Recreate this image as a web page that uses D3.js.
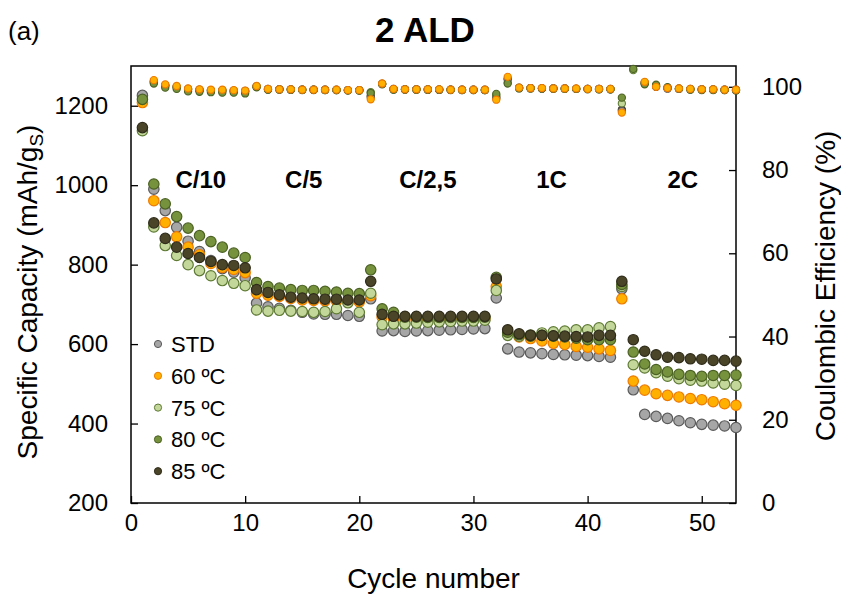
<!DOCTYPE html>
<meta charset="utf-8">
<style>
body { margin: 0; background: #fff; }
text { font-family: Arial, "Liberation Sans", sans-serif; fill: #000; }
.axis .tick text { font-size: 24px; }
.axis line { stroke: #000; stroke-width: 1.3px; }
.axis path { display: none; }
.frame { fill: none; stroke: #000; stroke-width: 1.5px; }
.rate { font-size: 24px; font-weight: bold; }
.legend text { font-size: 22px; }
</style>
<svg width="841" height="595"></svg>
<script src="https://cdn.jsdelivr.net/npm/d3@7"></script>
<script>

var cycles = [1,2,3,4,5,6,7,8,9,10,11,12,13,14,15,16,17,18,19,20,
  21,22,23,24,25,26,27,28,29,30,31,32,33,34,35,36,37,38,39,40,
  41,42,43,44,45,46,47,48,49,50,51,52,53];

var names = ["STD", "60 \u00BAC", "75 \u00BAC", "80 \u00BAC", "85 \u00BAC"];

// specific capacity, mAh/gS
var capSTD = [1226,990,936,894,859,833,810,790,781,767,
  703,694,690,685,680,676,675,675,672,670,
  714,633,634,632,633,634,635,636,637,638,
  639,716,588,580,578,576,574,573,572,571,
  569,567,739,485,423,418,413,407,402,398,
  396,394,390];
var cap60 = [1208,961,906,870,844,825,803,793,788,780,
  728,723,720,715,711,710,709,708,707,706,
  722,668,663,662,662,662,662,663,663,663,
  664,745,628,618,614,608,602,599,594,592,
  588,584,714,507,484,475,471,467,463,460,
  455,450,446];
var cap75 = [1137,895,848,823,800,785,772,760,753,747,
  686,683,685,683,682,680,682,689,704,680,
  728,649,651,651,653,655,656,657,658,658,
  660,735,622,620,623,628,631,633,636,636,
  641,644,745,548,540,528,519,513,509,507,
  502,499,496];
var cap80 = [1216,1003,953,921,892,873,858,844,829,818,
  755,745,741,737,735,735,733,731,728,727,
  787,689,680,668,668,667,667,667,667,667,
  668,768,630,624,620,622,620,618,615,611,
  611,611,750,580,550,536,530,524,521,519,
  521,521,522];
var cap85 = [1145,905,866,844,828,818,808,800,798,792,
  737,730,724,718,716,714,713,713,711,711,
  758,675,670,670,670,670,670,670,670,670,
  670,764,636,626,622,622,621,620,619,618,
  622,622,758,611,582,573,567,566,563,562,
  559,559,557];

// coulombic efficiency, %
var ceSTD = [null,101.2,100.3,100.0,99.4,99.2,99.1,99.1,99.0,98.9,
  100.1,99.4,99.4,99.3,99.3,99.3,99.3,99.2,99.2,99.2,
  97.5,100.7,99.4,99.4,99.4,99.3,99.3,99.3,99.3,99.3,
  99.2,97.2,101.8,99.7,99.7,99.6,99.6,99.6,99.5,99.5,
  99.5,99.4,94.2,null,101.0,100.1,99.6,99.5,99.4,99.4,
  99.3,99.3,99.2];
var ce60 = [null,101.6,100.6,100.2,99.6,99.4,99.3,99.3,99.2,99.1,
  100.2,99.5,99.4,99.4,99.3,99.3,99.3,99.3,99.2,99.2,
  97.0,100.8,99.5,99.4,99.4,99.4,99.4,99.3,99.3,99.3,
  99.3,96.9,102.4,99.8,99.7,99.7,99.6,99.6,99.6,99.5,
  99.5,99.5,93.8,null,101.2,100.0,99.7,99.6,99.5,99.4,
  99.4,99.3,99.3];
var ce75 = [null,101.0,100.2,99.9,99.3,99.1,99.0,99.0,98.9,98.8,
  100.0,99.4,99.4,99.3,99.3,99.3,99.2,99.2,99.2,99.1,
  98.7,100.7,99.4,99.4,99.3,99.3,99.3,99.3,99.2,99.2,
  99.2,97.9,101.0,99.7,99.6,99.6,99.6,99.5,99.5,99.5,
  99.4,99.4,96.0,104.0,100.8,100.3,99.8,99.5,99.4,99.3,
  99.3,99.2,99.2];
var ce80 = [null,100.8,99.8,99.5,98.9,98.8,98.7,98.6,98.6,98.4,
  99.9,99.3,99.3,99.3,99.2,99.2,99.2,99.2,99.1,99.1,
  98.5,100.6,99.3,99.3,99.3,99.3,99.3,99.2,99.2,99.2,
  99.2,98.3,100.8,99.6,99.6,99.6,99.5,99.5,99.5,99.4,
  99.4,99.4,97.4,104.3,100.6,100.5,99.9,99.6,99.3,99.2,
  99.2,99.2,99.1];
var ce85 = [null,101.3,100.4,100.0,99.5,99.3,99.2,99.2,99.1,99.0,
  100.1,99.5,99.4,99.4,99.3,99.3,99.3,99.3,99.2,99.2,
  97.8,100.7,99.5,99.4,99.4,99.4,99.3,99.3,99.3,99.3,
  99.3,97.5,101.9,99.8,99.7,99.6,99.6,99.6,99.5,99.5,
  99.5,99.5,94.5,null,101.0,100.0,99.6,99.5,99.5,99.4,
  99.4,99.3,99.3];

var rateLabels = ["C/10", "C/5", "C/2,5", "1C", "2C"];
var rateCycles = [3.9, 13.5, 23.5, 35.5, 47.0];

var xTicks = [0, 10, 20, 30, 40, 50];
var capTicks = [200, 400, 600, 800, 1000, 1200];
var ceTicks = [0, 20, 40, 60, 80, 100];

var fills = ["#a6a6a6", "#ffb000", "#c4d79b", "#76923c", "#4a4529"];
var strokes = ["#5a5a5a", "#ee7a00", "#5e7a34", "#4b6124", "#2f2c1a"];

var capSeries = [capSTD, cap60, cap75, cap80, cap85];
var ceSeries = [ceSTD, ce60, ce75, ce80, ce85];

var svg = d3.select("svg");
var L = 131, R = 736, T = 66, B = 503;

var x = d3.scaleLinear().domain([0, 53]).range([L, R]);
var yCap = d3.scaleLinear().domain([200, 1300]).range([B, T]);
var yCE = d3.scaleLinear().domain([0, 105]).range([B, T]);

svg.append("g").attr("class", "axis")
  .attr("transform", "translate(0," + B + ")")
  .call(d3.axisBottom(x).tickValues(xTicks).tickFormat(d3.format("d"))
    .tickSizeInner(-7).tickSizeOuter(0).tickPadding(11));
svg.append("g").attr("class", "axis")
  .attr("transform", "translate(" + L + ",0)")
  .call(d3.axisLeft(yCap).tickValues(capTicks).tickFormat(d3.format("d"))
    .tickSizeInner(-7).tickSizeOuter(0).tickPadding(23));
svg.append("g").attr("class", "axis")
  .attr("transform", "translate(" + R + ",0)")
  .call(d3.axisRight(yCE).tickValues(ceTicks).tickFormat(d3.format("d"))
    .tickSizeInner(-7).tickSizeOuter(0).tickPadding(26));

svg.append("rect").attr("class", "frame")
  .attr("x", L).attr("y", T).attr("width", R - L).attr("height", B - T);

// capacity points
capSeries.forEach(function(s, i) {
  svg.append("g").selectAll("circle")
    .data(cycles.map(function(c, j) { return [c, s[j]]; }))
    .enter().append("circle")
    .attr("cx", function(d) { return x(d[0]); })
    .attr("cy", function(d) { return yCap(d[1]); })
    .attr("r", 5.2)
    .attr("fill", fills[i])
    .attr("stroke", strokes[i])
    .attr("stroke-width", 1.2);
});

// efficiency points (60 ºC drawn last, on top)
[4, 2, 0, 3, 1].forEach(function(i) {
  var s = ceSeries[i];
  svg.append("g").selectAll("circle")
    .data(cycles.map(function(c, j) { return [c, s[j]]; }).filter(function(d) { return d[1] != null; }))
    .enter().append("circle")
    .attr("cx", function(d) { return x(d[0]); })
    .attr("cy", function(d) { return yCE(d[1]); })
    .attr("r", 3.6)
    .attr("fill", fills[i])
    .attr("stroke", strokes[i])
    .attr("stroke-width", 1.1);
});

// rate labels
svg.append("g").selectAll("text")
  .data(rateLabels)
  .enter().append("text")
  .attr("class", "rate")
  .attr("x", function(d, i) { return x(rateCycles[i]); })
  .attr("y", 188)
  .text(function(d) { return d; });

// legend
var lg = svg.append("g").attr("class", "legend");
names.forEach(function(n, i) {
  var yy = 344 + i * 31.8;
  lg.append("circle").attr("cx", 158).attr("cy", yy).attr("r", 3.6)
    .attr("fill", fills[i]).attr("stroke", strokes[i]).attr("stroke-width", 1);
  lg.append("text").attr("x", 171).attr("y", yy).attr("dy", "0.36em").text(n);
});

// titles
svg.append("text").attr("x", 425).attr("y", 42).attr("text-anchor", "middle")
  .style("font-size", "35px").style("font-weight", "bold").text("2 ALD");
svg.append("text").attr("x", 8).attr("y", 40).style("font-size", "26px").text("(a)");

svg.append("text").attr("x", (L + R) / 2).attr("y", 588).attr("text-anchor", "middle")
  .style("font-size", "28px").text("Cycle number");

var yl = svg.append("text").attr("transform", "translate(37,292) rotate(-90)")
  .attr("text-anchor", "middle").style("font-size", "28px");
yl.append("tspan").text("Specific Capacity (mAh/g");
yl.append("tspan").attr("dy", 6).style("font-size", "19px").text("S");
yl.append("tspan").attr("dy", -6).text(")");

svg.append("text").attr("transform", "translate(835,286) rotate(-90)")
  .attr("text-anchor", "middle").style("font-size", "28px").text("Coulombic Efficiency (%)");

</script>
